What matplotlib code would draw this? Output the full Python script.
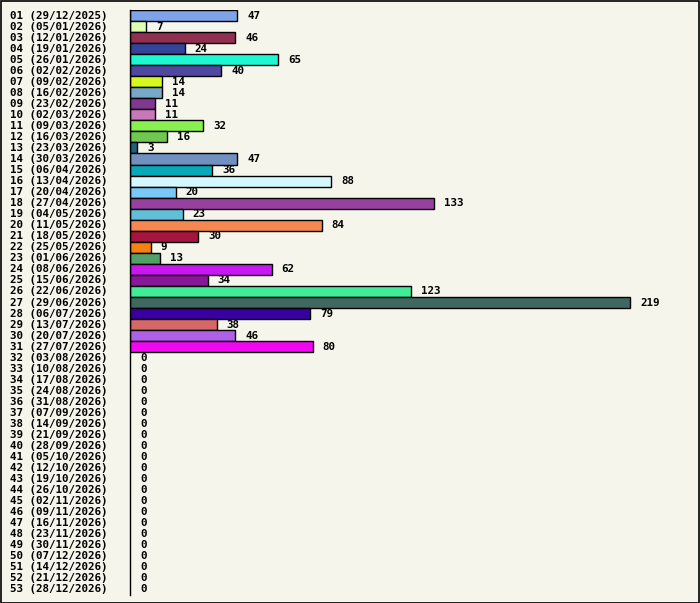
import matplotlib

matplotlib.use("Agg")
import matplotlib.pyplot as plt
from matplotlib.transforms import blended_transform_factory

weeks = [
    "29/12/2025", "05/01/2026", "12/01/2026", "19/01/2026", "26/01/2026", "02/02/2026",
    "09/02/2026", "16/02/2026", "23/02/2026", "02/03/2026", "09/03/2026", "16/03/2026",
    "23/03/2026", "30/03/2026", "06/04/2026", "13/04/2026", "20/04/2026", "27/04/2026",
    "04/05/2026", "11/05/2026", "18/05/2026", "25/05/2026", "01/06/2026", "08/06/2026",
    "15/06/2026", "22/06/2026", "29/06/2026", "06/07/2026", "13/07/2026", "20/07/2026",
    "27/07/2026", "03/08/2026", "10/08/2026", "17/08/2026", "24/08/2026", "31/08/2026",
    "07/09/2026", "14/09/2026", "21/09/2026", "28/09/2026", "05/10/2026", "12/10/2026",
    "19/10/2026", "26/10/2026", "02/11/2026", "09/11/2026", "16/11/2026", "23/11/2026",
    "30/11/2026", "07/12/2026", "14/12/2026", "21/12/2026", "28/12/2026",
]
counts = [
    47, 7, 46, 24, 65, 40, 14, 14, 11, 11, 32, 16, 3, 47, 36, 88, 20, 133,
    23, 84, 30, 9, 13, 62, 34, 123, 219, 79, 38, 46, 80,
] + [0] * 22
bar_colors = [
    "#7ea3e8", "#dcffb0", "#923052", "#334499", "#1ef8d0", "#5048a0",
    "#d4f820", "#78a8c8", "#803890", "#c878b8", "#88f050", "#70c850",
    "#206080", "#7090c0", "#08a8b8", "#d4f8ff", "#78c8f8", "#9840a0",
    "#60c0d8", "#f48850", "#a81440", "#f88010", "#50a068", "#c818f0",
    "#881898", "#40ec98", "#406860", "#3800a0", "#d86868", "#b060e8",
    "#f008f0",
] + ["#ffffff"] * 22

labels = [f"{i + 1:02d} ({w})" for i, w in enumerate(weeks)]
bg = "#f5f5eb"
font = dict(family="DejaVu Sans Mono", weight="bold", size=7.8)

W, H = 700, 603
fig = plt.figure(figsize=(W / 100, H / 100), dpi=100, facecolor=bg)
# frame around the whole picture
fig.patches.append(plt.Rectangle((0.5 / W, 0.5 / H), 1 - 1.5 / W, 1 - 1.5 / H,
                                 transform=fig.transFigure, fill=False,
                                 edgecolor="black", linewidth=1.2))

left, right, top, bottom = 130, 690, 10, 595
ax = fig.add_axes([left / W, 1 - bottom / H, (right - left) / W, (bottom - top) / H])
ax.set_facecolor(bg)
px_per_unit = 2.283
ax.set_xlim(0, (right - left) / px_per_unit)
ax.set_ylim(len(labels) - 0.5, -0.5)

label_tr = blended_transform_factory(fig.transFigure, ax.transData)
for yi, (v, c) in enumerate(zip(counts, bar_colors)):
    if v > 0:
        ax.barh(yi, v, height=1.0, color=c, edgecolor="black", linewidth=1.0)
    ax.text(v + 4.4, yi, str(v), va="center", ha="left", **font)
    ax.text(10 / W, yi, labels[yi], va="center", ha="left", transform=label_tr,
            clip_on=False, **font)

for s in ["top", "right", "bottom"]:
    ax.spines[s].set_visible(False)
ax.spines["left"].set_linewidth(1.0)
ax.set_xticks([])
ax.set_yticks([])

fig.savefig("out.png", dpi=100, facecolor=bg)
